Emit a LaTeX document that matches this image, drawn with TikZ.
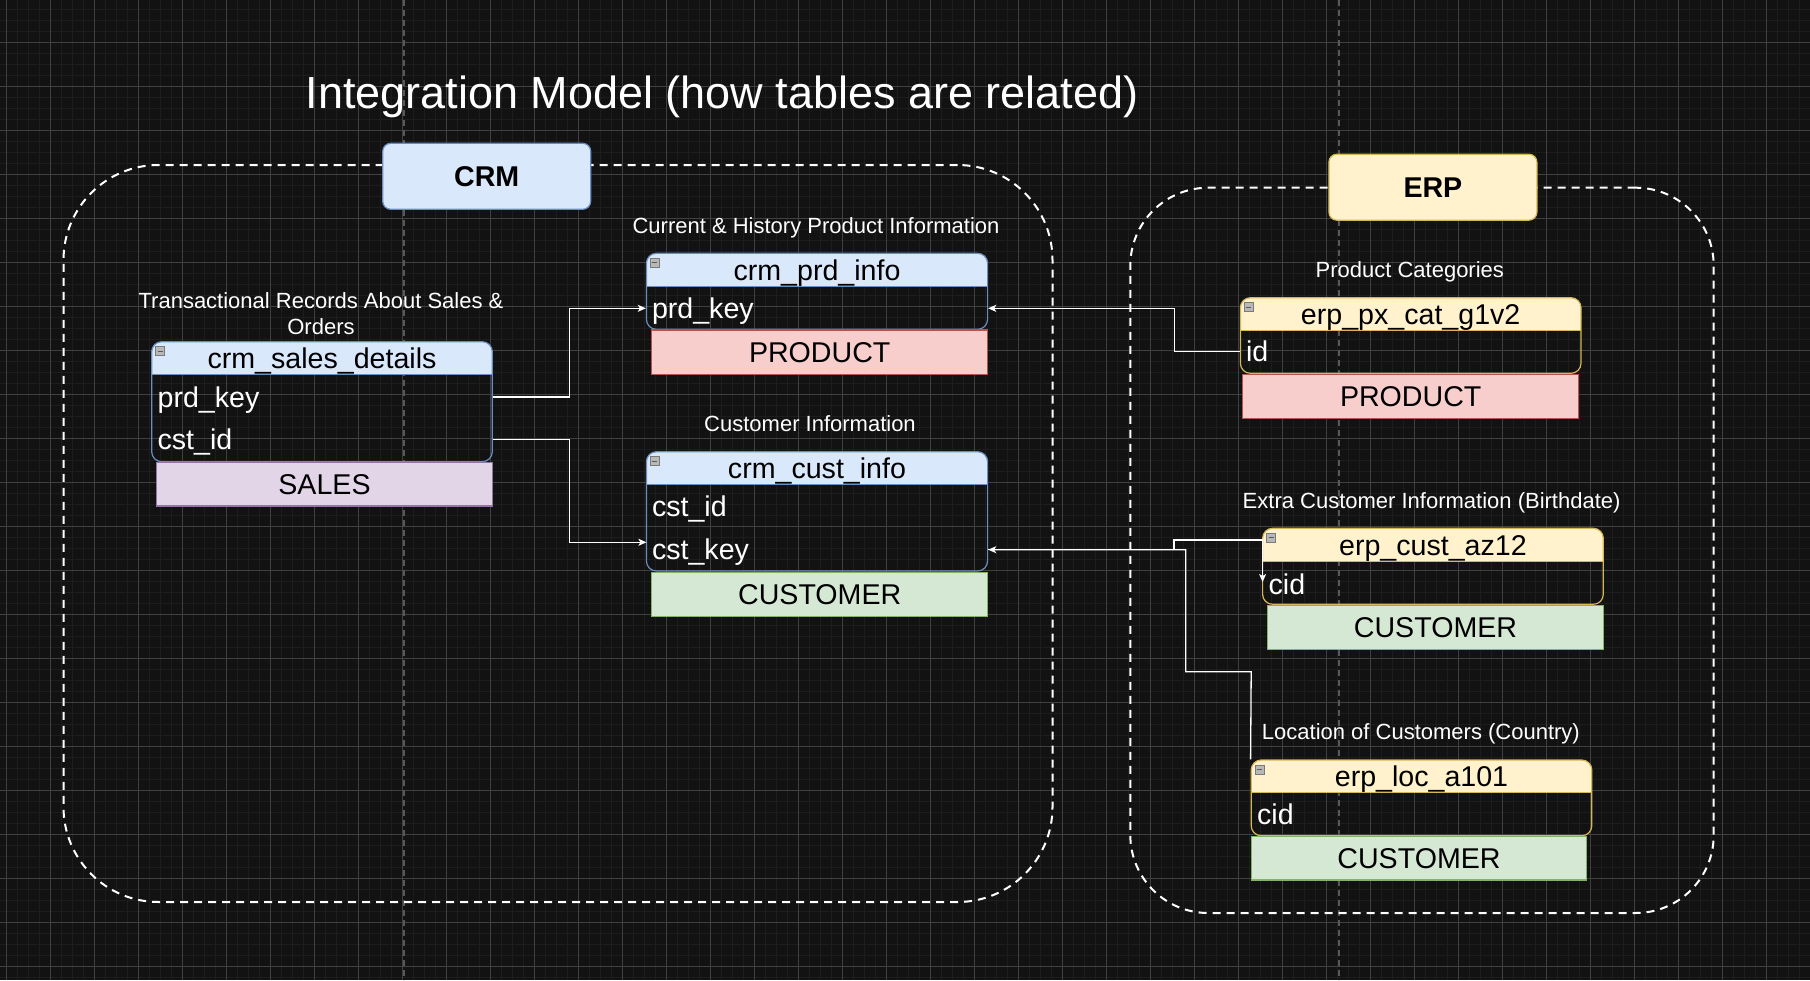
\documentclass[tikz,border=0pt]{standalone}
\usepackage{fontspec}
\setmainfont{Liberation Sans}
\usetikzlibrary{arrows.meta}
\definecolor{bgc}{HTML}{121212}
\definecolor{gminorc}{HTML}{1D1D1D}
\definecolor{gmajorc}{HTML}{404040}
\definecolor{pbc}{HTML}{585858}
\definecolor{blueF}{HTML}{DAE8FC}
\definecolor{blueB}{HTML}{6C8EBF}
\definecolor{yelF}{HTML}{FFF2CC}
\definecolor{yelB}{HTML}{D6B656}
\definecolor{redF}{HTML}{F8CECC}
\definecolor{redB}{HTML}{B85450}
\definecolor{grnF}{HTML}{D5E8D4}
\definecolor{grnB}{HTML}{82B366}
\definecolor{purF}{HTML}{E1D5E7}
\definecolor{purB}{HTML}{9673A6}
\definecolor{iconF}{HTML}{B8B8B8}
\definecolor{iconB}{HTML}{7A7A7A}
\tikzset{
  gminor/.style={gminorc, line width=1pt},
  gmajor/.style={gmajorc, line width=1pt},
  pagebreak/.style={pbc, line width=1.5pt, dash pattern=on 6pt off 4pt},
  container/.style={draw=white, line width=2pt, dash pattern=on 8pt off 6pt, fill=none, inner sep=0pt},
  srcbox/.style={rounded corners=8pt, line width=1.2pt, inner sep=0pt, text=black,
    font=\fontsize{28.6}{34}\selectfont\bfseries, text height=20.5pt, text depth=0pt},
  hdrfill/.style={rounded corners=10pt, inner sep=0pt, draw=none},
  frame/.style={rounded corners=10pt, line width=1.2pt, inner sep=0pt, fill=none},
  hdrtext/.style={text=black, inner sep=0pt, font=\fontsize{28.6}{34}\selectfont, text height=20.5pt, text depth=0pt},
  rowtext/.style={text=white, inner sep=0pt, anchor=west, font=\fontsize{28.6}{34}\selectfont, text height=20.5pt, text depth=0pt},
  entbox/.style={line width=1.2pt, inner sep=0pt, text=black, font=\fontsize{28.6}{34}\selectfont, text height=20.5pt, text depth=0pt},
  lbl/.style={text=white, inner sep=0pt, font=\fontsize{22}{26.4}\selectfont, text height=15.75pt, text depth=0pt},
  ttl/.style={text=white, inner sep=0pt, font=\fontsize{45}{54}\selectfont, text height=32.2pt, text depth=0pt},
  icon/.style={fill=iconF, draw=iconB, line width=0.6pt, minimum size=9pt, inner sep=0pt,
    path picture={\draw[black!65, line width=1.2pt] ([xshift=2pt]path picture bounding box.west) -- ([xshift=-2pt]path picture bounding box.east);}},
  conn/.style={white, line width=1.3pt},
  arr/.style={-{Stealth[length=8pt,width=7pt,inset=2pt]}}
}
% #1 name, #2 L, #3 R, #4 T, #5 H, #6 B, #7 fill, #8 border, #9 title
\newcommand\erdtable[9]{%
  \pgfmathsetmacro\tcx{(#2+#3)/2}%
  \pgfmathsetmacro\tw{#3-#2}%
  \pgfmathsetmacro\thh{#5-#4}%
  \pgfmathsetmacro\tcyh{(#4+#5)/2}%
  \pgfmathsetmacro\tcy{(#4+#6)/2}%
  \pgfmathsetmacro\tht{#6-#4}%
  \node[hdrfill, fill=#7, minimum width=\tw, minimum height=\thh] (#1-h) at (\tcx,\tcyh) {};
  \fill[#7] (#2,#4+11) rectangle (#3,#5);
  \node[frame, draw=#8, minimum width=\tw, minimum height=\tht] (#1) at (\tcx,\tcy) {};
  \draw[#8, line width=1.2pt] (#2,#5) -- (#3,#5);
  \node[hdrtext] (#1-title) at (\tcx,\tcyh) {#9};
  \node[icon] (#1-icon) at (#2+8.5,#4+9.5) {};
}
\begin{document}
\begin{tikzpicture}[x=1pt,y=-1pt]
\fill[bgc] (0,0) rectangle (1810,980);
\useasboundingbox (0,0) rectangle (1810,980);
% grid
\foreach \gx in {-5,6,...,1815} \draw[gminor] (\gx,0) -- (\gx,980);
\foreach \gy in {-1.7,9.3,...,990} \draw[gminor] (0,\gy) -- (1810,\gy);
\foreach \gx in {6,50,...,1815} \draw[gmajor] (\gx,0) -- (\gx,980);
\foreach \gy in {-1.7,42.3,...,990} \draw[gmajor] (0,\gy) -- (1810,\gy);
% page breaks
\draw[pagebreak] (404,0) -- (404,980);
\draw[pagebreak] (1339,0) -- (1339,980);

% title
\node[ttl] (title) at (722,92.7) {Integration Model (how tables are related)};

% containers
\node[container, rounded corners=95pt, minimum width=989, minimum height=737] (crmgroup) at (558,533.5) {};
\node[container, rounded corners=78pt, minimum width=583.4, minimum height=725.3] (erpgroup) at (1422,550.35) {};

% source boxes
\node[srcbox, fill=blueF, draw=blueB, minimum width=208, minimum height=66] (crm) at (486.7,176.3) {CRM};
\node[srcbox, fill=yelF, draw=yelB, minimum width=208, minimum height=66] (erp) at (1432.9,187.2) {ERP};

% labels
\node[lbl, align=center] (lsales) at (321,326.7) {Transactional Records About Sales \&\\Orders};
\node[lbl] (lprd) at (816,225.8) {Current \& History Product Information};
\node[lbl] (lcust) at (810,423.3) {Customer Information};
\node[lbl] (lpxcat) at (1409.8,269.2) {Product Categories};
\node[lbl] (laz12) at (1431.6,500.2) {Extra Customer Information (Birthdate)};
\node[lbl] (lloc) at (1420.9,731.2) {Location of Customers (Country)};

% tables
\erdtable{sales}{151.7}{492.3}{341.7}{374.3}{461.7}{blueF}{blueB}{crm\_sales\_details}
\node[rowtext] (sales-prd) at (157.4,397) {prd\_key};
\node[rowtext] (sales-cst) at (157.4,439.5) {cst\_id};
\node[entbox, fill=purF, draw=purB, minimum width=335.7, minimum height=43.7] (sales-ent) at (324.5,484.2) {SALES};

\erdtable{prd}{646.4}{987.6}{253.3}{286.7}{329.3}{blueF}{blueB}{crm\_prd\_info}
\node[rowtext] (prd-key) at (651.8,308.3) {prd\_key};
\node[entbox, fill=redF, draw=redB, minimum width=335.8, minimum height=44.3] (prd-ent) at (819.7,352.2) {PRODUCT};

\erdtable{cust}{646.4}{987.6}{451.7}{484.3}{571}{blueF}{blueB}{crm\_cust\_info}
\node[rowtext] (cust-id) at (651.8,505.8) {cst\_id};
\node[rowtext] (cust-key) at (651.8,549.7) {cst\_key};
\node[entbox, fill=grnF, draw=grnB, minimum width=335.8, minimum height=44.4] (cust-ent) at (819.7,594.5) {CUSTOMER};

\erdtable{pxcat}{1240.4}{1581}{297.7}{330.7}{373.3}{yelF}{yelB}{erp\_px\_cat\_g1v2}
\node[rowtext] (pxcat-id) at (1245.8,351.7) {id};
\node[entbox, fill=redF, draw=redB, minimum width=336, minimum height=44] (pxcat-ent) at (1410.7,396.3) {PRODUCT};

\erdtable{az12}{1262.6}{1603.3}{528.3}{561.7}{604.3}{yelF}{yelB}{erp\_cust\_az12}
\node[rowtext] (az12-cid) at (1268.4,583.8) {cid};
\node[entbox, fill=grnF, draw=grnB, minimum width=335.7, minimum height=43.6] (az12-ent) at (1435.5,627.5) {CUSTOMER};

\erdtable{loc}{1251.2}{1591.8}{760}{792.7}{835.7}{yelF}{yelB}{erp\_loc\_a101}
\node[rowtext] (loc-cid) at (1256.9,814.2) {cid};
\node[entbox, fill=grnF, draw=grnB, minimum width=335.6, minimum height=43.3] (loc-ent) at (1419,858.4) {CUSTOMER};

% connector waypoints
\coordinate (custin) at (646.4,542.3);
\coordinate (az12in) at (1262.6,582);

% connectors
\draw[conn, arr] (sales.east |- sales-prd) -- (569.6,397) |- (prd.west |- prd-key);
\draw[conn, arr] (sales.east |- sales-cst) -- (569.6,439.5) |- (custin);
\draw[conn, arr] (pxcat.west |- pxcat-id) -- (1174.7,351.7) |- (prd.east |- prd-key);
\draw[conn, arr] (loc.north west) -- (1251.2,671.7) -- (1185.7,671.7) |- (cust.east |- cust-key);
\draw[conn, arr] (cust.east |- cust-key) -- (1174,549.7) -- (1174,540) -- (1262.6,540) -- (az12in);
\end{tikzpicture}
\end{document}
